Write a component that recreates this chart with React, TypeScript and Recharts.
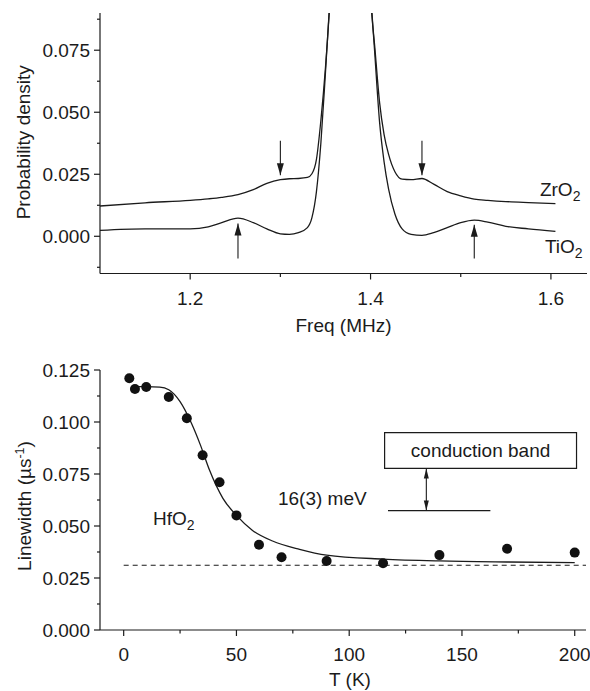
import {
  ComposedChart,
  LineChart,
  Line,
  Scatter,
  XAxis,
  YAxis,
  ReferenceLine,
  ReferenceArea,
  ReferenceDot,
} from "recharts";

const FONT = "'Liberation Sans', Arial, Helvetica, sans-serif";
const INK = "#1b1b1b";
const FS = 19;

// ---- top panel: probability density vs frequency ----
const freq = [
  1.1, 1.15, 1.2, 1.22, 1.235, 1.253, 1.27, 1.285, 1.3, 1.31, 1.32, 1.33, 1.335, 1.34, 1.345, 1.35, 1.355, 1.36, 1.37,
  1.378, 1.387, 1.395, 1.4, 1.405, 1.41, 1.415, 1.42, 1.427, 1.435, 1.445, 1.457, 1.47, 1.485, 1.5, 1.515, 1.53, 1.55,
  1.575, 1.605,
];
const zro2 = [
  0.0122, 0.0135, 0.0145, 0.0151, 0.0157, 0.0168, 0.0188, 0.0213, 0.0228, 0.0232, 0.0233, 0.0237, 0.0252, 0.031, 0.047,
  0.068, 0.095, 0.13, 0.22, 0.3, 0.22, 0.14, 0.097, 0.075, 0.054, 0.041, 0.033, 0.026, 0.023, 0.0228, 0.0233, 0.021,
  0.018, 0.0163, 0.015, 0.0145, 0.014, 0.0136, 0.0132,
];
const tio2 = [
  0.0024, 0.003, 0.003, 0.0038, 0.0055, 0.0073, 0.0055, 0.003, 0.001, 0.0008, 0.0015, 0.0035, 0.0075, 0.018, 0.038,
  0.066, 0.096, 0.13, 0.22, 0.3, 0.22, 0.145, 0.1, 0.072, 0.046, 0.03, 0.019, 0.009, 0.003, 0.0008, 0.0004, 0.0015,
  0.0035, 0.0055, 0.0065, 0.0057, 0.004, 0.003, 0.002,
];
const freqMajor = [1.2, 1.4, 1.6];
const freqMinor = [1.3, 1.5];
const densMajor = [0, 0.025, 0.05, 0.075];
const densMinor = [-0.0125, 0.0125, 0.0375, 0.0625, 0.0875];

// arrows marking the satellite features
const arrowFreq = [1.3, 1.253, 1.457, 1.515];
const arrowFrom = [0.0385, -0.009, 0.0385, -0.009];
const arrowTo = [0.0246, 0.0052, 0.0246, 0.0047];

// ---- bottom panel: linewidth vs temperature (HfO2) ----
const tempK = [2.5, 5, 10, 20, 28, 35, 42.5, 50, 60, 70, 90, 115, 140, 170, 200];
const linewidth = [
  0.121, 0.1159, 0.1168, 0.112, 0.1018, 0.084, 0.071, 0.0551, 0.041, 0.035, 0.0332, 0.0321, 0.036, 0.0391, 0.0372,
];
const fitT = [5, 10, 16, 20, 25, 30, 34, 38, 44, 50, 57, 66, 78, 90, 115, 140, 170, 200];
const fitV = [
  0.117, 0.117, 0.1168, 0.1155, 0.1098, 0.0995, 0.089, 0.077, 0.0633, 0.0551, 0.048, 0.0428, 0.0388, 0.036, 0.0341,
  0.0332, 0.0327, 0.0324,
];
const baseline = 0.0311;
const tMajor = [0, 50, 100, 150, 200];
const tMinor = [25, 75, 125, 175];
const lwMajor = [0, 0.025, 0.05, 0.075, 0.1, 0.125];
const lwMinor = [0.0125, 0.0375, 0.0625, 0.0875, 0.1125];

const isIn = (list: number[], v: number) => list.some((m) => Math.abs(m - v) < 1e-9);
const merge = (a: number[], b: number[]) => [...a, ...b].sort((p, q) => p - q);

function BottomTick(props: any) {
  const { x, y, payload, major, fmt } = props;
  const big = isIn(major, payload.value);
  return (
    <g>
      <line x1={x} y1={y} x2={x} y2={y + (big ? 6 : 3.5)} stroke={INK} strokeWidth={1.2} />
      {big && (
        <text x={x} y={y + 31} textAnchor="middle" fontSize={FS} fontFamily={FONT} fill={INK}>
          {fmt(payload.value)}
        </text>
      )}
    </g>
  );
}

function LeftTick(props: any) {
  const { x, y, payload, major } = props;
  const big = isIn(major, payload.value);
  return (
    <g>
      <line x1={x - (big ? 6 : 3)} y1={y} x2={x} y2={y} stroke={INK} strokeWidth={1.2} />
      {big && (
        <text x={x - 10} y={y + 6.8} textAnchor="end" fontSize={FS} fontFamily={FONT} fill={INK}>
          {payload.value.toFixed(3)}
        </text>
      )}
    </g>
  );
}

function arrowShape(head: number, half: number, both: boolean) {
  return (p: any) => {
    const { x1, y1, x2, y2 } = p;
    const d = y2 > y1 ? 1 : -1;
    const tri = (tx: number, ty: number, s: number) =>
      `${tx},${ty} ${tx - half},${ty - s * head} ${tx + half},${ty - s * head}`;
    return (
      <g>
        <line x1={x1} y1={y1} x2={x2} y2={y2} stroke={INK} strokeWidth={1.1} />
        <polygon points={tri(x2, y2, d)} fill={INK} />
        {both && <polygon points={tri(x1, y1, -d)} fill={INK} />}
      </g>
    );
  };
}

function chemLabel(base: string, sub: string) {
  return (p: any) => {
    const { x, y } = p.viewBox;
    return (
      <text x={x} y={y} fontSize={FS} fontFamily={FONT} fill={INK}>
        {base}
        <tspan dy={5} fontSize={14}>
          {sub}
        </tspan>
      </text>
    );
  };
}

function plainLabel(text: string) {
  return (p: any) => {
    const { x, y } = p.viewBox;
    return (
      <text x={x} y={y} fontSize={FS} fontFamily={FONT} fill={INK}>
        {text}
      </text>
    );
  };
}

const densityData = freq.map((f, i) => ({ f, zr: zro2[i], ti: tio2[i] }));
const pointData = tempK.map((t, i) => ({ t, v: linewidth[i] }));
const fitData = fitT.map((t, i) => ({ t, v: fitV[i] }));

export default function App() {
  return (
    <div style={{ position: "absolute", left: 0, top: 0, width: 590, height: 691, background: "#fff" }}>
      <LineChart width={590} height={340} data={densityData} margin={{ top: 13, right: 3, bottom: 6.5, left: 0 }}>
        <XAxis
          dataKey="f"
          type="number"
          domain={[1.1, 1.64]}
          ticks={merge(freqMajor, freqMinor)}
          interval={0}
          height={60}
          tickSize={0}
          tickMargin={0}
          tickLine={false}
          axisLine={{ stroke: INK, strokeWidth: 1.2 }}
          tick={(p: any) => <BottomTick {...p} major={freqMajor} fmt={(v: number) => v.toFixed(1)} />}
          label={{
            content: (p: any) => (
              <text
                x={p.viewBox.x + p.viewBox.width / 2}
                y={p.viewBox.y + 58}
                textAnchor="middle"
                fontSize={FS}
                fontFamily={FONT}
                fill={INK}
              >
                Freq (MHz)
              </text>
            ),
          }}
        />
        <YAxis
          type="number"
          domain={[-0.015, 0.09]}
          allowDataOverflow
          ticks={merge(densMajor, densMinor)}
          interval={0}
          width={100}
          tickSize={0}
          tickMargin={0}
          tickLine={false}
          axisLine={{ stroke: INK, strokeWidth: 1.2 }}
          tick={(p: any) => <LeftTick {...p} major={densMajor} />}
          label={{
            content: (p: any) => {
              const cx = 30;
              const cy = p.viewBox.y + p.viewBox.height / 2 - 1;
              return (
                <text
                  x={cx}
                  y={cy}
                  transform={`rotate(-90 ${cx} ${cy})`}
                  textAnchor="middle"
                  fontSize={FS}
                  fontFamily={FONT}
                  fill={INK}
                >
                  Probability density
                </text>
              );
            },
          }}
        />
        <Line type="monotone" dataKey="zr" stroke={INK} strokeWidth={1.3} dot={false} isAnimationActive={false} />
        <Line type="monotone" dataKey="ti" stroke={INK} strokeWidth={1.3} dot={false} isAnimationActive={false} />
        {arrowFreq.map((f, i) => (
          <ReferenceLine
            key={i}
            segment={[
              { x: f, y: arrowFrom[i] },
              { x: f, y: arrowTo[i] },
            ]}
            shape={arrowShape(12, 3.5, false)}
          />
        ))}
        <ReferenceDot x={1.5878} y={0.01625} r={0} stroke="none" label={{ content: chemLabel("ZrO", "2") }} />
        <ReferenceDot x={1.5933} y={-0.0066} r={0} stroke="none" label={{ content: chemLabel("TiO", "2") }} />
      </LineChart>

      <ComposedChart width={590} height={351} margin={{ top: 30, right: 4, bottom: 6, left: 0 }}>
        <XAxis
          dataKey="t"
          type="number"
          domain={[-10.5, 205]}
          ticks={merge(tMajor, tMinor)}
          interval={0}
          height={55}
          tickSize={0}
          tickMargin={0}
          tickLine={false}
          axisLine={{ stroke: INK, strokeWidth: 1.2 }}
          tick={(p: any) => <BottomTick {...p} major={tMajor} fmt={(v: number) => String(v)} />}
          label={{
            content: (p: any) => (
              <text
                x={p.viewBox.x + p.viewBox.width / 2 + 7}
                y={p.viewBox.y + 56}
                textAnchor="middle"
                fontSize={FS}
                fontFamily={FONT}
                fill={INK}
              >
                T (K)
              </text>
            ),
          }}
        />
        <YAxis
          dataKey="v"
          type="number"
          domain={[0, 0.125]}
          ticks={merge(lwMajor, lwMinor)}
          interval={0}
          width={100}
          tickSize={0}
          tickMargin={0}
          tickLine={false}
          axisLine={{ stroke: INK, strokeWidth: 1.2 }}
          tick={(p: any) => <LeftTick {...p} major={lwMajor} />}
          label={{
            content: (p: any) => {
              const cx = 31;
              const cy = p.viewBox.y + p.viewBox.height / 2 + 6;
              return (
                <text
                  x={cx}
                  y={cy}
                  transform={`rotate(-90 ${cx} ${cy})`}
                  textAnchor="middle"
                  fontSize={FS}
                  fontFamily={FONT}
                  fill={INK}
                >
                  Linewidth (µs
                  <tspan dy={-7} fontSize={12.5}>
                    -1
                  </tspan>
                  <tspan dy={7}>)</tspan>
                </text>
              );
            },
          }}
        />
        <ReferenceLine
          segment={[
            { x: 0, y: baseline },
            { x: 205, y: baseline },
          ]}
          stroke={INK}
          strokeWidth={1.1}
          strokeDasharray="5 4"
        />
        <Line
          data={fitData}
          dataKey="v"
          type="monotone"
          stroke={INK}
          strokeWidth={1.3}
          dot={false}
          isAnimationActive={false}
        />
        <Scatter
          data={pointData}
          dataKey="v"
          fill={INK}
          isAnimationActive={false}
          shape={(p: any) => <circle cx={p.cx} cy={p.cy} r={5} fill="#111" />}
        />
        <ReferenceArea
          x1={115.7}
          x2={200.8}
          y1={0.0777}
          y2={0.0949}
          fill="#fff"
          fillOpacity={1}
          stroke={INK}
          strokeWidth={1.2}
          label={{ value: "conduction band", position: "center", fontSize: FS, fontFamily: FONT, fill: INK }}
        />
        <ReferenceLine
          segment={[
            { x: 117.2, y: 0.0574 },
            { x: 162.6, y: 0.0574 },
          ]}
          stroke={INK}
          strokeWidth={1.2}
        />
        <ReferenceLine
          segment={[
            { x: 134.2, y: 0.0574 },
            { x: 134.2, y: 0.0777 },
          ]}
          shape={arrowShape(10, 2.5, true)}
        />
        <ReferenceDot x={13} y={0.0505} r={0} stroke="none" label={{ content: chemLabel("HfO", "2") }} />
        <ReferenceDot x={68.4} y={0.0601} r={0} stroke="none" label={{ content: plainLabel("16(3) meV") }} />
      </ComposedChart>
    </div>
  );
}
